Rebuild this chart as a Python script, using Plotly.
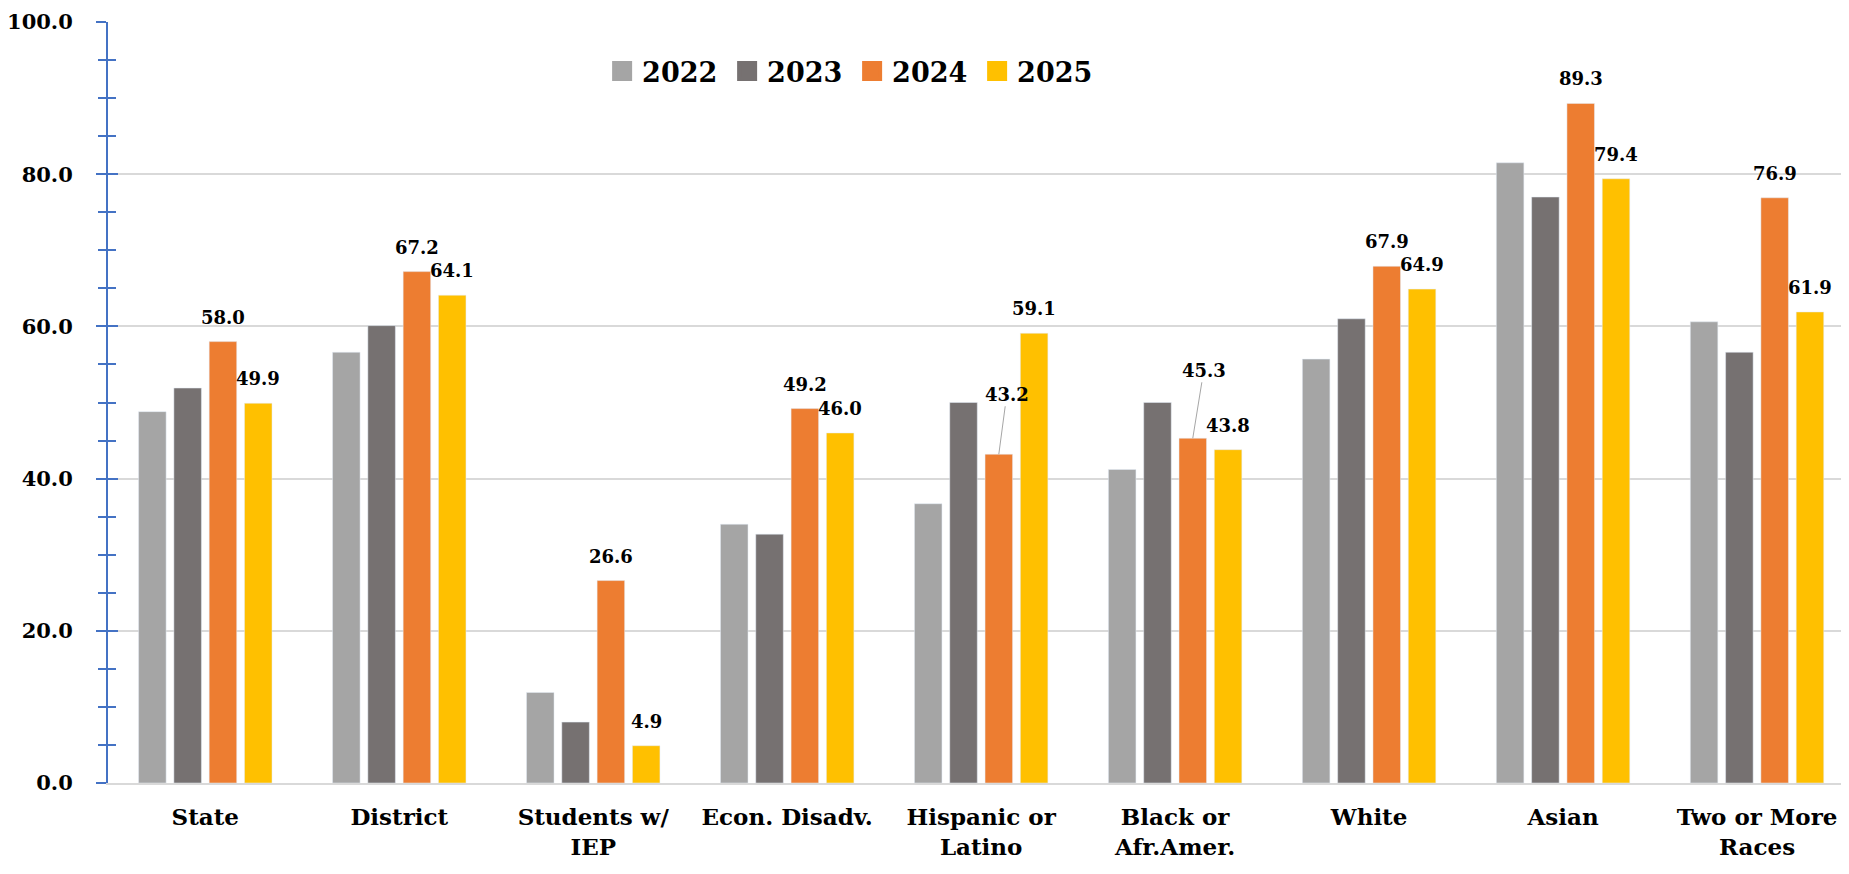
import plotly.graph_objects as go

# data
categories = ["State", "District", "Students w/<br>IEP", "Econ. Disadv.",
              "Hispanic or<br>Latino", "Black or<br>Afr.Amer.", "White",
              "Asian", "Two or More<br>Races"]
years = ["2022", "2023", "2024", "2025"]
v2022 = [48.8, 56.6, 11.9, 34.0, 36.7, 41.2, 55.7, 81.5, 60.6]
v2023 = [51.9, 60.1, 8.0, 32.7, 50.0, 50.0, 61.0, 77.0, 56.6]
v2024 = [58.0, 67.2, 26.6, 49.2, 43.2, 45.3, 67.9, 89.3, 76.9]
v2025 = [49.9, 64.1, 4.9, 46.0, 59.1, 43.8, 64.9, 79.4, 61.9]
labelled = {"2024": v2024, "2025": v2025}

colors = ["#A5A5A5", "#767171", "#ED7D31", "#FFC000"]
FONT = "DejaVu Serif"
BARGAP = 0.272

# labels pulled away from the bar with a leader line: (year, index) -> (ax, ay)
leaders = {("2024", 4): (8, -60), ("2024", 5): (11, -68)}

fig = go.Figure()
for yr, vals, col in zip(years, [v2022, v2023, v2024, v2025], colors):
    fig.add_trace(go.Bar(x=categories, y=vals, name=yr, marker_color=col,
                         showlegend=False, hoverinfo="x+y"))
    # legend entry with a bigger square
    fig.add_trace(go.Scatter(x=[categories[0]], y=[None], name=yr, mode="markers",
                             marker=dict(symbol="square", size=16, color=col,
                                         line=dict(color=col, width=4)),
                             yaxis="y2", hoverinfo="skip"))

# data labels
pitch = (1 - BARGAP) / len(years)
lab_font = dict(family=FONT, size=18, color="black", weight="bold")
annotations = []
for k, yr in enumerate(years):
    if yr not in labelled:
        continue
    for i, v in enumerate(labelled[yr]):
        xpos = i + (k - (len(years) - 1) / 2) * pitch
        txt = f"{v:.1f}"
        if (yr, i) in leaders:
            ax, ay = leaders[(yr, i)]
            annotations.append(dict(x=xpos, y=v, xref="x", yref="y", text=txt,
                                    showarrow=True, arrowhead=0, arrowwidth=1,
                                    arrowcolor="#A6A6A6", ax=ax, ay=ay, font=lab_font))
        else:
            annotations.append(dict(x=xpos, y=v, xref="x", yref="y", text=txt,
                                    showarrow=False, yanchor="bottom", yshift=12,
                                    font=lab_font))

tick_style = dict(ticklen=10, tickwidth=2, tickcolor="#4472C4")
minor_style = dict(dtick=5, ticklen=8, tickwidth=1.5, tickcolor="#4472C4", showgrid=False)

fig.update_layout(
    barmode="group",
    bargap=BARGAP,
    bargroupgap=0.22,
    width=1849, height=874,
    margin=dict(l=100, r=3, t=14, b=99),
    paper_bgcolor="white",
    plot_bgcolor="white",
    font=dict(family=FONT, color="black"),
    annotations=annotations,
    legend=dict(orientation="h", x=0.283, y=0.935, xanchor="left", yanchor="middle",
                font=dict(family=FONT, size=27, color="black", weight="bold"),
                entrywidth=80, bgcolor="rgba(0,0,0,0)"),
    xaxis=dict(type="category", showline=True, linecolor="#D9D9D9", linewidth=2,
               ticks="", automargin=False,
               tickfont=dict(family=FONT, size=23, color="black", weight="bold"),
               ticklabelstandoff=12),
    yaxis=dict(range=[0, 100], tickvals=[0, 20, 40, 60, 80, 100], tickformat=".1f",
               showgrid=True, gridcolor="#D9D9D9", gridwidth=2, zeroline=False,
               showline=True, linecolor="#4472C4", linewidth=2, automargin=False,
               ticks="outside", **tick_style,
               minor=dict(ticks="outside", **minor_style),
               tickfont=dict(family=FONT, size=21, color="black", weight="bold"),
               ticklabelstandoff=19, ticklabeloverflow="allow"),
    yaxis2=dict(range=[0, 100], overlaying="y", side="left", anchor="x",
                tickvals=[0, 20, 40, 60, 80, 100], showticklabels=False,
                showgrid=False, zeroline=False, showline=False, automargin=False,
                ticks="inside", **tick_style,
                minor=dict(ticks="inside", **minor_style)),
)

fig.write_html("out.html")
